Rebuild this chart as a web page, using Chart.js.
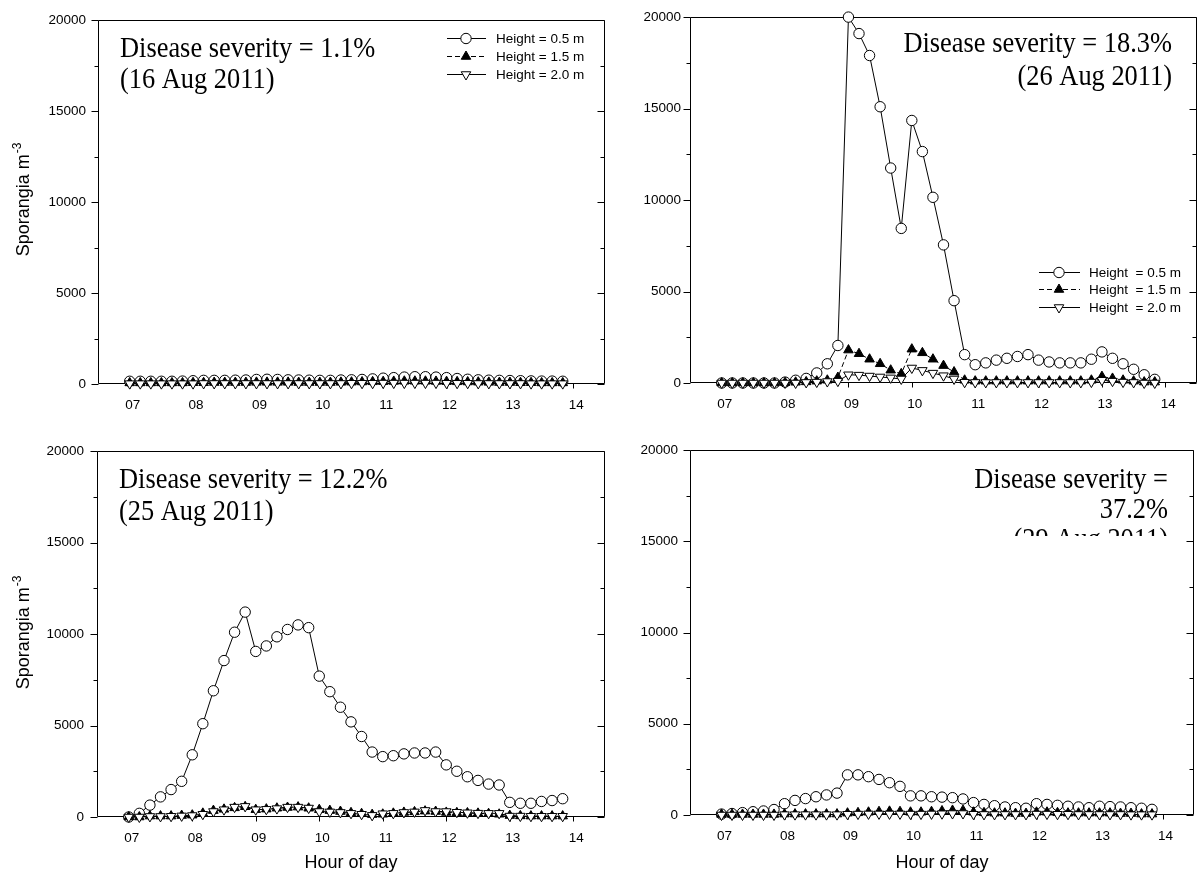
<!DOCTYPE html>
<html><head><meta charset="utf-8">
<script src="https://cdn.jsdelivr.net/npm/chart.js@4.4.1/dist/chart.umd.min.js"></script>
<style>
html,body{margin:0;padding:0;background:#fff;width:1204px;height:881px;overflow:hidden;position:relative;}
canvas{position:absolute;}
</style></head><body>
<canvas id="c1" width="640" height="430" style="left:0px;top:0px"></canvas>
<canvas id="c2" width="584" height="430" style="left:620px;top:0px"></canvas>
<canvas id="c3" width="640" height="451" style="left:0px;top:430px"></canvas>
<canvas id="c4" width="584" height="451" style="left:620px;top:430px"></canvas>
<script>
// ---------- data ----------
const timeLabels = ["07:00","07:10","07:20","07:30","07:40","07:50",
  "08:00","08:10","08:20","08:30","08:40","08:50",
  "09:00","09:10","09:20","09:30","09:40","09:50",
  "10:00","10:10","10:20","10:30","10:40","10:50",
  "11:00","11:10","11:20","11:30","11:40","11:50",
  "12:00","12:10","12:20","12:30","12:40","12:50",
  "13:00","13:10","13:20","13:30","13:40","13:50"];
const hourTicks = [7,8,9,10,11,12,13,14];
const xTickLabels = ["07","08","09","10","11","12","13","14"];
const yTickValues = [0,5000,10000,15000,20000];
const yMinorValues = [2500,7500,12500,17500];
const seriesNames = ["Height = 0.5 m","Height = 1.5 m","Height = 2.0 m"];
const seriesNamesTR = ["Height  = 0.5 m","Height  = 1.5 m","Height  = 2.0 m"];

// 16 Aug 2011
const h05_16 = [150,150,150,150,150,160,180,200,200,200,210,220,250,260,250,230,220,210,200,200,220,230,250,280,320,350,380,400,400,380,350,300,260,230,210,200,190,180,170,160,160,150];
const h15_16 = [60,60,60,60,60,60,70,70,80,80,80,80,90,90,90,90,80,80,80,80,90,100,110,120,130,140,150,150,150,140,130,120,110,100,90,80,80,70,70,60,60,60];
const h20_16 = [20,20,20,20,20,20,20,30,30,30,30,30,30,30,30,30,30,30,30,30,30,40,40,40,50,50,50,50,50,50,40,40,40,30,30,30,30,30,20,20,20,20];
// 26 Aug 2011
const h05_26 = [0,0,0,0,0,0,50,150,250,550,1050,2050,20000,19100,17900,15100,11750,8450,14350,12650,10150,7550,4500,1550,1000,1100,1250,1350,1450,1550,1250,1150,1100,1100,1100,1300,1700,1350,1050,750,450,200];
const h15_26 = [0,0,0,0,0,0,20,40,60,100,150,300,1800,1600,1300,1050,700,500,1850,1650,1300,950,600,150,100,100,100,100,100,100,100,100,100,100,100,150,350,250,150,100,50,50];
const h20_26 = [0,0,0,0,0,0,0,0,30,50,80,100,450,430,380,330,280,220,820,690,540,400,220,40,30,30,30,30,30,30,30,30,30,30,30,50,150,100,50,30,0,0];
// 25 Aug 2011
const h05_25 = [0,200,650,1100,1500,1950,3400,5100,6900,8550,10100,11200,9050,9350,9850,10250,10500,10350,7700,6850,6000,5200,4400,3550,3300,3350,3450,3500,3500,3550,2850,2500,2200,2000,1800,1750,800,750,750,850,900,1000];
const h15_25 = [0,0,50,50,50,80,100,200,350,420,500,560,400,430,480,520,540,480,400,350,300,230,180,130,150,200,250,280,320,300,250,230,220,200,180,150,80,60,50,50,50,50];
const h20_25 = [0,0,30,30,40,60,80,150,300,400,540,580,400,420,460,540,540,490,300,280,250,200,150,90,180,200,250,280,360,300,300,260,230,210,200,200,50,50,40,40,40,40];
// 29 Aug 2011
const h05_29 = [50,80,130,180,220,300,620,800,900,1000,1100,1200,2200,2200,2100,1950,1770,1570,1050,1050,1000,980,950,880,680,580,510,440,400,370,620,580,530,480,440,400,480,460,440,400,370,310];
const h15_29 = [30,30,30,30,30,30,50,50,50,50,50,50,100,120,150,180,200,180,150,150,180,220,250,250,150,120,100,100,80,80,150,150,120,100,100,100,100,100,80,80,50,50];
const h20_29 = [0,0,0,0,0,0,20,20,20,20,20,20,40,50,60,60,60,60,50,50,60,70,80,80,40,30,30,30,30,30,50,50,40,40,30,30,30,30,30,20,20,20];

// ---------- helpers ----------
const SANS = "'Liberation Sans', Arial, sans-serif";
const SERIF = "'Liberation Serif', 'Times New Roman', serif";
Chart.defaults.font.family = SANS;
Chart.defaults.color = '#000';

function parseHour(t){ const p = t.split(':'); return Number(p[0]) + Number(p[1])/60; }
function toXY(vals){ return timeLabels.map((t,i)=>({x: parseHour(t), y: vals[i]})); }

function makeDatasets(v05, v15, v20){
  const base = {borderColor:'#000', borderWidth:1, pointBorderColor:'#000', pointBorderWidth:1, clip:false, tension:0, fill:false};
  return [
    Object.assign({}, base, {label:seriesNames[0], data:toXY(v05), pointStyle:'circle', pointRadius:5.2, pointBackgroundColor:'#fff', order:3}),
    Object.assign({}, base, {label:seriesNames[1], data:toXY(v15), borderDash:[5,3], pointStyle:'triangle', pointRadius:5.5, pointBackgroundColor:'#000', order:2}),
    Object.assign({}, base, {label:seriesNames[2], data:toXY(v20), pointStyle:'triangle', pointRotation:180, pointRadius:5.5, pointBackgroundColor:'#fff', order:1})
  ];
}

function drawMarker(ctx, ds, x, y){
  ctx.save();
  ctx.translate(x, y);
  ctx.rotate((ds.pointRotation || 0) * Math.PI / 180);
  ctx.beginPath();
  const r = ds.pointRadius;
  if (ds.pointStyle === 'circle') { ctx.arc(0, 0, r, 0, Math.PI * 2); }
  else {
    let a = 0;
    for (let k = 0; k < 3; k++) {
      const px = Math.sin(a) * r, py = -Math.cos(a) * r;
      if (k) ctx.lineTo(px, py); else ctx.moveTo(px, py);
      a += Math.PI * 2 / 3;
    }
    ctx.closePath();
  }
  ctx.fillStyle = ds.pointBackgroundColor; ctx.fill();
  ctx.setLineDash([]); ctx.lineWidth = 1; ctx.strokeStyle = '#000'; ctx.stroke();
  ctx.restore();
}

const panelPlugin = {
  id: 'panel',
  beforeDatasetsDraw(chart){
    const {ctx, chartArea: a, scales: {x, y}} = chart;
    ctx.save();
    ctx.strokeStyle = '#000'; ctx.lineWidth = 1; ctx.setLineDash([]);
    const L = Math.round(a.left) + 0.5, R = Math.round(a.right) - 0.5;
    const T = Math.round(a.top) + 0.5, B = Math.round(a.bottom) - 0.5;
    ctx.beginPath();
    ctx.rect(L, T, R - L, B - T);
    yTickValues.forEach(v => {
      const py = Math.round(y.getPixelForValue(v)) + 0.5;
      ctx.moveTo(L - 7, py); ctx.lineTo(L, py);
      ctx.moveTo(R, py); ctx.lineTo(R - 7, py);
    });
    yMinorValues.forEach(v => {
      const py = Math.round(y.getPixelForValue(v)) + 0.5;
      ctx.moveTo(L - 4, py); ctx.lineTo(L, py);
      ctx.moveTo(R, py); ctx.lineTo(R - 4, py);
    });
    hourTicks.forEach(v => {
      const px = Math.round(x.getPixelForValue(v)) + 0.5;
      ctx.moveTo(px, B); ctx.lineTo(px, B + 5);
    });
    ctx.stroke();
    ctx.restore();
  },
  afterDraw(chart){
    const o = chart.options.plugins.panel;
    const ctx = chart.ctx;
    // annotation (serif, slightly tall like the original)
    ctx.save();
    if (o.clipY) { ctx.beginPath(); ctx.rect(0, 0, chart.width, o.clipY); ctx.clip(); }
    const sx = 0.88;
    ctx.font = '30px ' + SERIF;
    ctx.fillStyle = '#000';
    ctx.textAlign = o.annotAlign;
    ctx.textBaseline = 'alphabetic';
    o.annot.forEach((s, i) => {
      ctx.save();
      ctx.translate(o.annotX, o.annotY[i]);
      ctx.scale(sx, 1);
      ctx.fillText(s, 0, 0);
      ctx.restore();
    });
    ctx.restore();
    // legend
    if (o.legend) {
      const lg = o.legend;
      ctx.save();
      chart.data.datasets.forEach((ds, i) => {
        const yy = lg.rows[i];
        ctx.beginPath();
        ctx.setLineDash(ds.borderDash || []);
        ctx.strokeStyle = '#000'; ctx.lineWidth = 1;
        ctx.moveTo(lg.x0, yy + 0.5); ctx.lineTo(lg.x1, yy + 0.5);
        ctx.stroke();
        drawMarker(ctx, ds, lg.xm, yy + 0.5);
        ctx.font = '13.5px ' + SANS;
        ctx.fillStyle = '#000';
        ctx.textAlign = 'left'; ctx.textBaseline = 'middle';
        ctx.fillText(lg.labels[i], lg.xt, yy + 1);
      });
      ctx.restore();
    }
    // y title with superscript
    if (o.yTitle) {
      ctx.save();
      ctx.translate(o.yTitle.x, o.yTitle.y);
      ctx.rotate(-Math.PI / 2);
      ctx.fillStyle = '#000';
      ctx.textBaseline = 'alphabetic';
      ctx.textAlign = 'left';
      const main = 'Sporangia m', sup = '-3';
      ctx.font = '18px ' + SANS;
      const w1 = ctx.measureText(main).width;
      ctx.font = '12px ' + SANS;
      const w2 = ctx.measureText(sup).width;
      const start = -(w1 + w2) / 2;
      ctx.font = '18px ' + SANS;
      ctx.fillText(main, start, 0);
      ctx.font = '12px ' + SANS;
      ctx.fillText(sup, start + w1 + 1, -8);
      ctx.restore();
    }
  }
};

function makeChart(id, cfg){
  const datasets = makeDatasets(cfg.v05, cfg.v15, cfg.v20);
  return new Chart(document.getElementById(id), {
    type: 'line',
    data: {datasets},
    plugins: [panelPlugin],
    options: {
      responsive: false, animation: false, events: [],
      layout: {padding: {top: cfg.padTop, right: cfg.padRight, left: 0, bottom: 0}},
      plugins: {legend: {display: false}, tooltip: {enabled: false}, panel: cfg.panel},
      scales: {
        x: {
          type: 'linear', min: 6.5, max: 14.5,
          afterBuildTicks: s => { s.ticks = hourTicks.map(v => ({value: v})); },
          afterFit: s => { s.height = cfg.bottomH; },
          grid: {display: false, drawTicks: false},
          border: {display: false},
          ticks: {autoSkip: false, maxRotation: 0, padding: 13, labelOffset: 3, font: {size: 13.5}, color: '#000',
            callback: v => { const i = hourTicks.indexOf(v); return i >= 0 ? xTickLabels[i] : ''; }},
          title: {display: cfg.xTitle, text: 'Hour of day', font: {size: 18}, color: '#000', padding: {top: 0, bottom: 7}}
        },
        y: {
          min: 0, max: 20000,
          afterBuildTicks: s => { s.ticks = yTickValues.map(v => ({value: v})); },
          afterFit: s => { s.width = cfg.leftW; },
          grid: {display: false, drawTicks: false},
          border: {display: false},
          ticks: {padding: cfg.tickPad, font: {size: 13.5}, color: '#000', callback: v => String(v)}
        }
      }
    }
  });
}

makeChart('c1', {v05: h05_16, v15: h15_16, v20: h20_16, padTop: 16, padRight: 35, bottomH: 46, leftW: 98, tickPad: 12, xTitle: false,
  panel: {annot: ['Disease severity = 1.1%', '(16 Aug 2011)'], annotAlign: 'left', annotX: 120, annotY: [57, 88],
    legend: {rows: [38, 56, 74], x0: 447, x1: 486, xm: 466, xt: 496, labels: seriesNames},
    yTitle: {x: 29, y: 200}}});

makeChart('c2', {v05: h05_26, v15: h15_26, v20: h20_26, padTop: 16, padRight: 7, bottomH: 47, leftW: 70, tickPad: 9, xTitle: false,
  panel: {annot: ['Disease severity = 18.3%', '(26 Aug 2011)'], annotAlign: 'right', annotX: 552, annotY: [52, 85],
    legend: {rows: [272, 289, 307], x0: 419, x1: 460, xm: 439, xt: 469, labels: seriesNamesTR}}});

makeChart('c3', {v05: h05_25, v15: h15_25, v20: h20_25, padTop: 19, padRight: 35, bottomH: 64, leftW: 97, tickPad: 13, xTitle: true,
  panel: {annot: ['Disease severity = 12.2%', '(25 Aug 2011)'], annotAlign: 'left', annotX: 119, annotY: [58, 90],
    yTitle: {x: 29, y: 203}}});

makeChart('c4', {v05: h05_29, v15: h15_29, v20: h20_29, padTop: 19, padRight: 10, bottomH: 66, leftW: 70, tickPad: 12, xTitle: true,
  panel: {annot: ['Disease severity =', '37.2%', '(29 Aug 2011)'], annotAlign: 'right', annotX: 548, annotY: [58, 88, 118], clipY: 106}});
</script>
</body></html>
